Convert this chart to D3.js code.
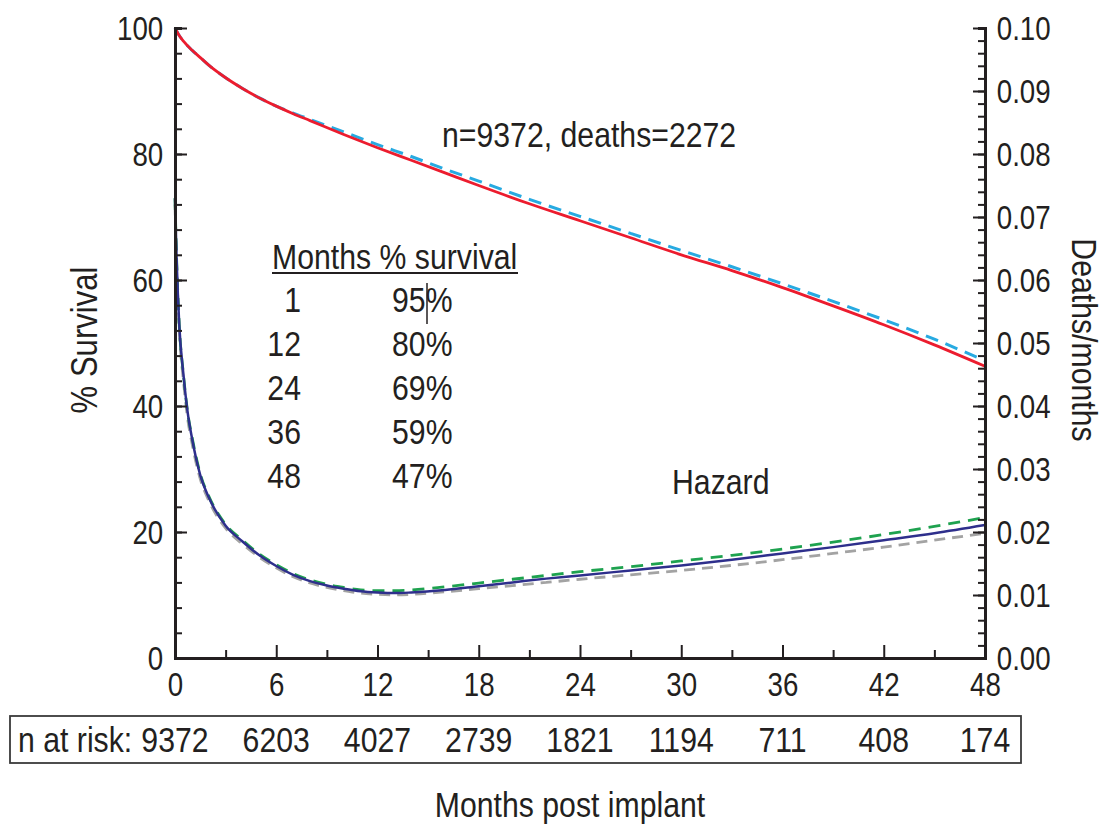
<!DOCTYPE html>
<html>
<head>
<meta charset="utf-8">
<script src="https://cdn.jsdelivr.net/npm/d3@7"></script>
<style>
  body { margin: 0; background: #fff; }
  text { font-family: "Liberation Sans", Arial, sans-serif; fill: #231f20; }
</style>
</head>
<body>
<div id="chart"></div>
<script>
// survival (months, %)
var survMonths = [0, 0.25, 0.5, 1, 1.5, 2, 3, 4, 5, 6, 7, 8, 10, 12, 14, 16, 18, 21, 24, 27, 30, 33, 36, 39, 42, 45, 48];
var survSolid  = [100, 98.8, 97.9, 96.5, 95.3, 94.1, 92.1, 90.4, 88.9, 87.6, 86.4, 85.3, 83.1, 81.0, 79.0, 77.0, 75.0, 72.1, 69.4, 66.7, 64.0, 61.5, 58.8, 55.9, 52.9, 49.7, 46.3];
var survDashed = [100, 98.8, 97.9, 96.5, 95.3, 94.1, 92.1, 90.4, 88.9, 87.6, 86.5, 85.5, 83.5, 81.5, 79.6, 77.6, 75.7, 72.8, 70.1, 67.4, 64.7, 62.1, 59.4, 56.6, 53.7, 50.6, 47.2];

// hazard (months, deaths/month)
var hazMonths  = [0, 0.1, 0.25, 0.5, 0.75, 1, 1.5, 2, 3, 4, 5, 6, 7, 8, 9, 10, 11, 12, 13, 14, 16, 18, 20, 22, 24, 27, 30, 33, 36, 39, 42, 45, 48];
var hazSolid   = [0.073, 0.063, 0.053, 0.045, 0.039, 0.035, 0.029, 0.0255, 0.021, 0.0185, 0.0163, 0.0146, 0.0132, 0.0122, 0.0115, 0.0110, 0.0106, 0.0104, 0.0103, 0.0104, 0.0108, 0.0114, 0.0120, 0.0126, 0.0131, 0.0139, 0.0147, 0.0156, 0.0166, 0.0176, 0.0187, 0.0198, 0.0211];
var hazGreen   = [0.073, 0.063, 0.053, 0.045, 0.039, 0.0352, 0.0292, 0.0257, 0.0212, 0.0187, 0.0165, 0.0148, 0.0134, 0.0124, 0.0117, 0.0112, 0.0108, 0.0107, 0.0107, 0.0108, 0.0113, 0.0119, 0.0125, 0.0131, 0.0137, 0.0145, 0.0154, 0.0163, 0.0173, 0.0184, 0.0196, 0.0209, 0.0223];
var hazGray    = [0.072, 0.062, 0.052, 0.044, 0.038, 0.0342, 0.0284, 0.0250, 0.0206, 0.0181, 0.0160, 0.0143, 0.0129, 0.0119, 0.0112, 0.0107, 0.0103, 0.0101, 0.0100, 0.0101, 0.0105, 0.0110, 0.0115, 0.0120, 0.0125, 0.0132, 0.0139, 0.0147, 0.0156, 0.0166, 0.0176, 0.0187, 0.0198];

var tableMonths = ["1", "12", "24", "36", "48"];
var tablePct    = ["95%", "80%", "69%", "59%", "47%"];

var riskMonths = [0, 6, 12, 18, 24, 30, 36, 42, 48];
var riskN      = ["9372", "6203", "4027", "2739", "1821", "1194", "711", "408", "174"];

var xTicks = [0, 6, 12, 18, 24, 30, 36, 42, 48];
var yTicks = [0, 20, 40, 60, 80, 100];
var y2Ticks = [0, 0.01, 0.02, 0.03, 0.04, 0.05, 0.06, 0.07, 0.08, 0.09, 0.10];

var W = 1104, H = 829;
var pLeft = 175, pRight = 985, pTop = 28, pBottom = 658;
var NARROW = 0.84;   // condensed look of the original type

var svg = d3.select("#chart").append("svg")
    .attr("width", W)
    .attr("height", H);

var x = d3.scaleLinear().domain([0, 48]).range([pLeft, pRight]);
var y = d3.scaleLinear().domain([0, 100]).range([pBottom, pTop]);
var y2 = d3.scaleLinear().domain([0, 0.10]).range([pBottom, pTop]);

function zip(xs, ys) { return xs.map(function (m, i) { return [m, ys[i]]; }); }

function label(tx, ty, str, anchor, size, rot) {
    return svg.append("text")
        .attr("transform", "translate(" + tx + "," + ty + ")" + (rot ? " rotate(" + rot + ")" : "") + " scale(" + NARROW + ",1)")
        .attr("text-anchor", anchor || "start")
        .style("font-size", (size || 36) + "px")
        .text(str);
}

var lineS = d3.line().x(d => x(d[0])).y(d => y(d[1])).curve(d3.curveMonotoneX);
var lineH = d3.line().x(d => x(d[0])).y(d => y2(d[1])).curve(d3.curveMonotoneX);

// hazard curves
svg.append("path").datum(zip(hazMonths, hazGray))
    .attr("d", lineH).attr("fill", "none")
    .attr("stroke", "#a3a3a3").attr("stroke-width", 2.8).attr("stroke-dasharray", "11,7");
svg.append("path").datum(zip(hazMonths, hazGreen))
    .attr("d", lineH).attr("fill", "none")
    .attr("stroke", "#1ea24f").attr("stroke-width", 2.8).attr("stroke-dasharray", "12,8");
svg.append("path").datum(zip(hazMonths, hazSolid))
    .attr("d", lineH).attr("fill", "none")
    .attr("stroke", "#2e2f8c").attr("stroke-width", 2.5);

// survival curves
svg.append("path").datum(zip(survMonths, survDashed))
    .attr("d", lineS).attr("fill", "none")
    .attr("stroke", "#27aae1").attr("stroke-width", 3).attr("stroke-dasharray", "13,8");
svg.append("path").datum(zip(survMonths, survSolid))
    .attr("d", lineS).attr("fill", "none")
    .attr("stroke", "#ec1c2e").attr("stroke-width", 2.8);

// axes
function styleAxis(g) {
    g.select(".domain").attr("stroke", "#231f20").attr("stroke-width", 3);
    g.selectAll(".tick line").attr("stroke", "#231f20").attr("stroke-width", 2);
    g.selectAll(".tick text")
        .style("font-size", "33px")
        .attr("fill", "#231f20")
        .attr("transform", "scale(" + NARROW + ",1)");
}

// minor ticks
svg.append("g").attr("transform", "translate(" + pLeft + ",0)")
    .call(d3.axisLeft(y).tickValues(d3.range(0, 101, 4)).tickSize(-7).tickFormat(""))
    .call(styleAxis);
svg.append("g").attr("transform", "translate(" + pRight + ",0)")
    .call(d3.axisRight(y2).tickValues(d3.range(0, 0.1001, 0.002)).tickSize(-7).tickFormat(""))
    .call(styleAxis);
svg.append("g").attr("transform", "translate(0," + pBottom + ")")
    .call(d3.axisBottom(x).tickValues(d3.range(3, 48, 6)).tickSize(-8).tickFormat(""))
    .call(styleAxis);

// major ticks
svg.append("g").attr("transform", "translate(" + pLeft + ",0)")
    .call(d3.axisLeft(y).tickValues(yTicks).tickSizeInner(-12).tickSizeOuter(0).tickPadding(14))
    .call(styleAxis)
    .selectAll(".tick text").attr("dy", "0.36em");
svg.append("g").attr("transform", "translate(" + pRight + ",0)")
    .call(d3.axisRight(y2).tickValues(y2Ticks).tickSizeInner(-12).tickSizeOuter(0).tickPadding(14)
        .tickFormat(d3.format(".2f")))
    .call(styleAxis)
    .selectAll(".tick text").attr("dy", "0.36em");
svg.append("g").attr("transform", "translate(0," + pBottom + ")")
    .call(d3.axisBottom(x).tickValues(xTicks).tickSizeInner(-13).tickSizeOuter(0).tickPadding(10))
    .call(styleAxis)
    .selectAll(".tick text").attr("dy", "0.85em");

// axis titles
label(97, 340, "% Survival", "middle", 37, -90);
label(1072, 340, "Deaths/months", "middle", 36, 90);

// annotations
label(442, 147, "n=9372, deaths=2272");
label(672, 494, "Hazard");

// survival table
label(272, 269, "Months % survival");
svg.append("line")
    .attr("x1", 272).attr("x2", 518).attr("y1", 273).attr("y2", 273)
    .attr("stroke", "#231f20").attr("stroke-width", 2);
tableMonths.forEach(function (d, i) { label(301, 312 + i * 44, d, "end"); });
tablePct.forEach(function (d, i) { label(392, 312 + i * 44, d, "start"); });
// stray cursor mark in the source figure
svg.append("line")
    .attr("x1", 427).attr("x2", 427).attr("y1", 283).attr("y2", 324)
    .attr("stroke", "#231f20").attr("stroke-width", 1.5);

// n at risk box
svg.append("rect")
    .attr("x", 10).attr("y", 716).attr("width", 1011).attr("height", 47)
    .attr("fill", "none").attr("stroke", "#3a3a3a").attr("stroke-width", 1.8);
label(18, 752, "n at risk:");
riskN.forEach(function (d, i) { label(x(riskMonths[i]), 752, d, "middle"); });

label(570, 817, "Months post implant", "middle");
</script>
</body>
</html>
